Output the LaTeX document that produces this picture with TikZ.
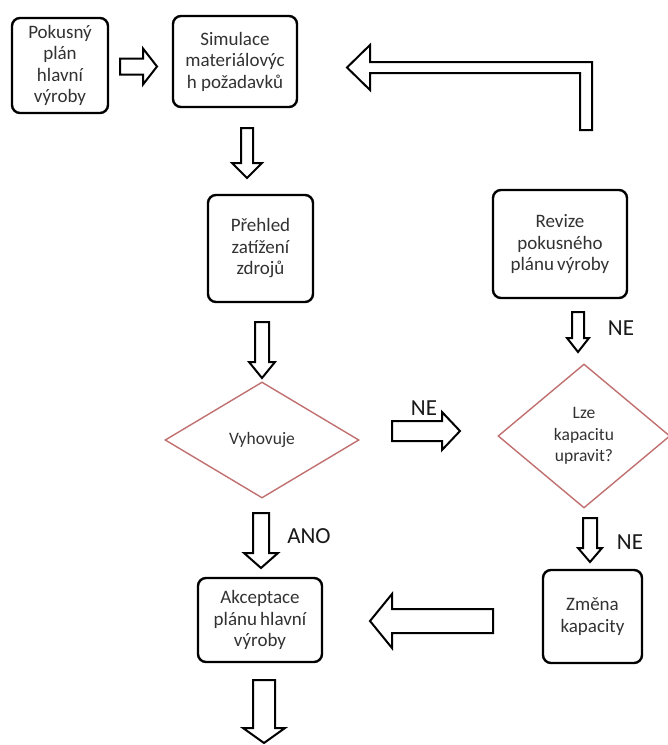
\documentclass[tikz,border=0pt]{standalone}
\usepackage{fontspec}
\setmainfont{Carlito}
\usetikzlibrary{shapes.geometric}
\definecolor{dia}{RGB}{192,112,112}
\definecolor{txt}{RGB}{50,50,50}
\tikzset{
  box/.style={draw=black, line width=2.4pt, rounded corners=8pt, text=txt,
    align=center, font=\fontsize{19}{21.5}\selectfont, inner sep=0pt},
  decision/.style={diamond, draw=dia, line width=1.4pt, text=txt, align=center,
    font=\fontsize{17.5}{21.5}\selectfont, inner sep=0pt},
  blockarrow/.style={draw=black, line width=2pt, fill=white, line join=miter},
  lbl/.style={font=\fontsize{23}{26}\selectfont, text=black!90, inner sep=0pt}
}
% block arrow: #1 tail centre, #2 direction angle, #3 length,
% #4 shaft half width, #5 head half width, #6 head length
\newcommand\barrow[6]{%
  \draw[blockarrow, shift={(#1)}, rotate=#2]
    (0,-#4) -- ({#3-#6},-#4) -- ({#3-#6},-#5) -- (#3,0) -- ({#3-#6},#5)
    -- ({#3-#6},#4) -- (0,#4) -- cycle;}
\begin{document}
\begin{tikzpicture}[x=1pt,y=-1pt]
\useasboundingbox[fill=white] (0,0) rectangle (668,745);

% process boxes
\node[box, minimum width=96pt, minimum height=95pt] (plan) at (60,65.5)
  {Pokusný\\plán\\hlavní\\výroby};
\node[box, minimum width=124pt, minimum height=91pt] (sim) at (235,61.5)
  {Simulace\\materiálovýc\\h požadavků};
\node[box, minimum width=105pt, minimum height=107pt] (zat) at (260.5,248.5)
  {Přehled\\zatížení\\zdrojů};
\node[box, minimum width=134pt, minimum height=108pt] (rev) at (560,244)
  {Revize\\pokusného\\plánu\,výroby};
\node[box, minimum width=124pt, minimum height=84pt] (acc) at (260,620)
  {Akceptace\\plánu\,hlavní\\výroby};
\node[box, minimum width=99pt, minimum height=93pt] (chg) at (592.5,616.5)
  {Změna\\kapacity};

% decisions
\node[decision, minimum width=194pt, minimum height=116pt] (ok) at (262,440)
  {Vyhovuje};
\node[decision, minimum width=172pt, minimum height=144pt] (cap) at (584,436)
  {Lze\\kapacitu\\upravit?};

% arrow tails
\coordinate (t1) at (120,66.5);
\coordinate (t2) at (247,128);
\coordinate (t3) at (262,322);
\coordinate (t4) at (392,431);
\coordinate (t5) at (578,312);
\coordinate (t6) at (261,513);
\coordinate (t7) at (590,518);
\coordinate (t8) at (493,621);
\coordinate (t9) at (264,680);

\barrow{t1}{0}{37}{8}{18}{14}
\barrow{t2}{-90}{50}{6}{15}{15}
\barrow{t3}{-90}{56}{7}{13}{16}
\barrow{t4}{0}{68}{10}{19}{18}
\barrow{t5}{-90}{40}{6}{11}{14}
\barrow{t6}{-90}{55}{8}{17}{15}
\barrow{t7}{-90}{44}{7}{12}{14}
\barrow{t8}{180}{123}{12}{27}{22}
\barrow{t9}{-90}{63}{11}{21}{15}

% return arrow from the revision box back to the simulation
\draw[blockarrow] (347,67.5) -- (370,45) -- (370,62) -- (592,62) -- (592,130)
  -- (580,130) -- (580,73) -- (370,73) -- (370,90) -- cycle;

% branch labels
\node[lbl] (ne1) at (424,408) {NE};
\node[lbl] (ne2) at (621,328) {NE};
\node[lbl] (ano) at (309,536) {ANO};
\node[lbl] (ne3) at (630,542) {NE};
\end{tikzpicture}
\end{document}
